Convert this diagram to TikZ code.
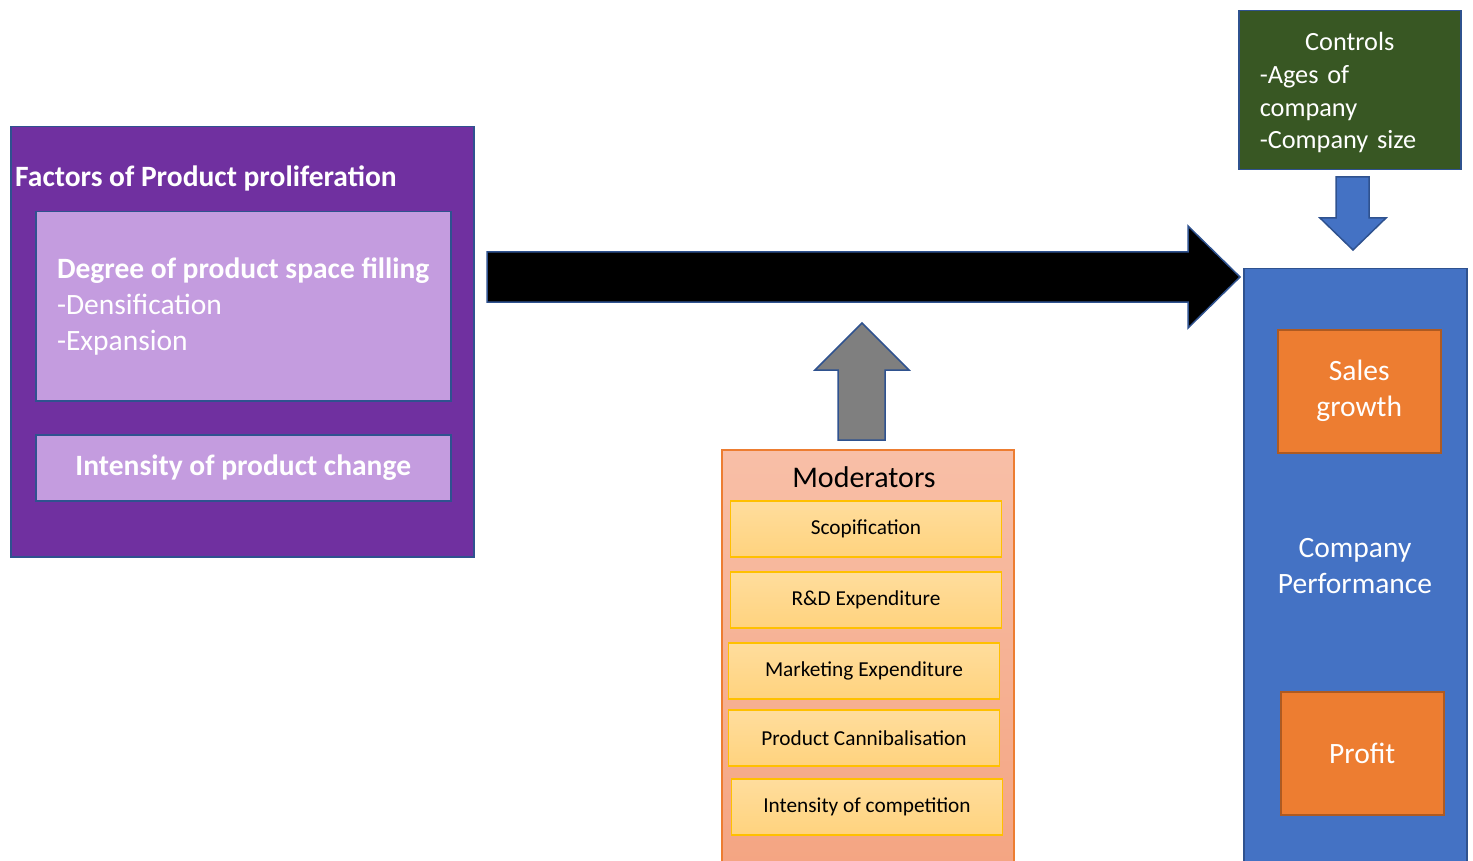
\documentclass[tikz,border=0pt]{standalone}
\usepackage{fontspec}
\setmainfont{Carlito}
\usetikzlibrary{positioning}
\definecolor{lineblue}{HTML}{2F528F}
\definecolor{factorpurple}{HTML}{7030A0}
\definecolor{lavender}{HTML}{C49CDF}
\definecolor{controlgreen}{HTML}{385723}
\definecolor{perfblue}{HTML}{4472C4}
\definecolor{perforange}{HTML}{ED7D31}
\definecolor{orangeline}{HTML}{AE5A21}
\definecolor{arrowgray}{HTML}{7F7F7F}
\definecolor{modtop}{HTML}{F8BFA7}
\definecolor{modbottom}{HTML}{F4A481}
\definecolor{itemtop}{HTML}{FFDD9D}
\definecolor{itembottom}{HTML}{FFD37E}
\definecolor{itemline}{HTML}{FFC000}
\newcommand{\setfs}[2]{\fontsize{#1}{#2}\selectfont}

\tikzset{
  box/.style={draw=lineblue, line width=1.5pt, inner sep=0pt, anchor=north west},
  factorbox/.style={box, fill=lavender, text=white, align=left,
    minimum width=415pt, font=\setfs{29.5}{36}},
  resultbox/.style={box, draw=orangeline, fill=perforange, text=white, align=center,
    minimum width=163pt, minimum height=123pt, font=\setfs{29.5}{36}},
  itembox/.style={box, draw=itemline, top color=itemtop, bottom color=itembottom,
    minimum width=271pt, minimum height=56pt, anchor=north, font=\setfs{21.3}{24}},
  blockarrow/.style={draw=lineblue, line width=1.5pt, line join=miter}
}

\begin{document}
\begin{tikzpicture}[x=1pt, y=-1pt]
  \useasboundingbox (0,0) rectangle (1473,861);
  \clip (0,0) rectangle (1473,861);

  % factors of product proliferation
  \node[box, fill=factorpurple, minimum width=463pt, minimum height=430pt] (factors) at (10,126) {};
  \node[anchor=west, text=white, font=\bfseries\setfs{29.5}{36}, inner sep=0pt] (factorstitle) at (15,178) {Factors of Product proliferation};
  \node[factorbox, minimum height=189pt] (filling) at (35,211)
    {\textbf{Degree of product space filling}\\-Densification\\-Expansion};
  \node[factorbox, align=center, minimum height=66pt] (change) at (35,434)
    {\textbf{Intensity of product change}};

  % main arrow
  \draw[blockarrow, fill=black] (487,252) -- (1188,252) -- (1188,226) -- (1240,277)
    -- (1188,328) -- (1188,302) -- (487,302) -- cycle;

  % moderators
  \node[box, draw=perforange, top color=modtop, bottom color=modbottom,
    minimum width=292pt, minimum height=430pt] (moderators) at (721,449) {};
  \node[font=\setfs{30}{34}, inner sep=0pt] (modtitle) at (864,477) {Moderators};
  \node[itembox] (scop) at (866,500) {Scopification};
  \node[itembox, below=13.5pt of scop] (rnd) {R\&D Expenditure};
  \node[itembox, below=13.5pt of rnd, xshift=-2pt] (marketing) {Marketing Expenditure};
  \node[itembox, below=9.5pt of marketing] (cannibal) {Product Cannibalisation};
  \node[itembox, below=11.5pt of cannibal, xshift=3pt] (competition) {Intensity of competition};

  % moderating arrow
  \draw[blockarrow, fill=arrowgray] (838,440) -- (838,370) -- (815,370) -- (862,323)
    -- (909,370) -- (885,370) -- (885,440) -- cycle;

  % controls
  \node[box, fill=controlgreen, minimum width=222pt, minimum height=159pt] (controls) at (1238,10) {};
  \node[text=white, align=left, text width=180pt, inner sep=0pt, font=\setfs{26.3}{32.7}]
    (controlstext) at ([yshift=-2.5pt]controls.center)
    {\hfill Controls\hfill\mbox{}\\-Ages of\\company\\-Company size};
  \draw[blockarrow, fill=perfblue] (1336,177) -- (1369,177) -- (1369,218) -- (1386,218)
    -- (1353,250) -- (1320,218) -- (1336,218) -- cycle;

  % company performance
  \node[box, fill=perfblue, minimum width=223pt, minimum height=610pt] (performance) at (1243,268) {};
  \node[text=white, align=center, font=\setfs{29.5}{36}, inner sep=0pt] (perftitle) at (1355,566)
    {Company\\Performance};
  \node[resultbox] (sales) at (1277,329) {Sales\\growth};
  \node[resultbox] (profit) at (1280,691) {Profit};
\end{tikzpicture}
\end{document}
